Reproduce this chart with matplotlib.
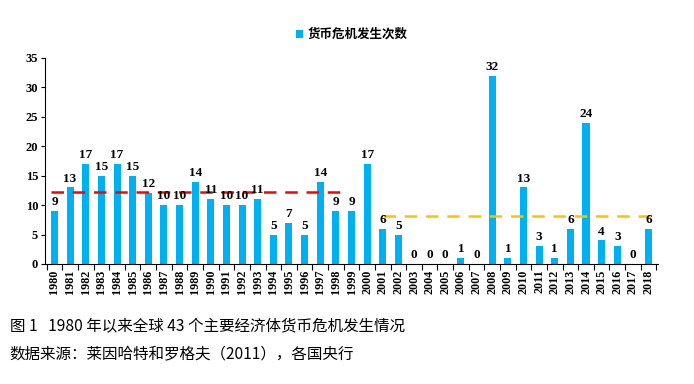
import matplotlib

matplotlib.use("Agg")

import matplotlib.pyplot as plt
import numpy as np

years = [str(y) for y in range(1980, 2019)]
counts = [9, 13, 17, 15, 17, 15, 12, 10, 10, 14, 11, 10, 10, 11, 5, 7, 5, 14, 9, 9,
          17, 6, 5, 0, 0, 0, 1, 0, 32, 1, 13, 3, 1, 6, 24, 4, 3, 0, 6]
avg_early = 12.2   # red dashed line, 1980-1999
avg_late = 8.2     # orange dashed line, 2001-2018

cjk = ["Noto Sans CJK SC", "DejaVu Sans"]
serif = "Liberation Serif"

fig = plt.figure(figsize=(6.94, 3.84), dpi=100)
ax = fig.add_axes([0.065, 0.3125, 0.883, 0.5365])

x = np.arange(len(years))
bars = ax.bar(x, counts, width=0.45, color="#00B0F0", label="货币危机发生次数", zorder=2)

for xi, v in zip(x, counts):
    ax.text(xi, v + 0.5, str(v), ha="center", va="bottom", fontsize=9.5,
            fontweight="bold", family=serif, zorder=4)

ax.plot([x[0] - 0.25, x[18] + 0.5], [avg_early, avg_early], color="#FF0000", lw=1.8,
        dashes=(5, 3.5), zorder=3)
ax.plot([x[21], x[38] + 0.2], [avg_late, avg_late], color="#FFC000", lw=1.8,
        dashes=(5, 3.5), zorder=3)

ax.set_xlim(-0.6, len(years) - 0.4)
ax.set_ylim(0, 35)
ax.set_yticks(range(0, 36, 5))
ax.set_yticklabels([str(t) for t in range(0, 36, 5)], family=serif,
                   fontweight="bold", fontsize=9)
ax.set_xticks(x)
ax.set_xticklabels(years, rotation=90, family=serif, fontweight="bold", fontsize=8.7)
ax.set_xticks(np.arange(-0.5, len(years)), minor=True)
ax.tick_params(axis="x", which="major", length=0, pad=4)
ax.tick_params(axis="x", which="minor", length=4, direction="out", width=0.8)
ax.tick_params(axis="y", length=3, direction="out", width=0.8, pad=2)

for s in ["top", "right"]:
    ax.spines[s].set_visible(False)
ax.spines["left"].set_linewidth(0.8)
ax.spines["bottom"].set_linewidth(0.8)

leg = ax.legend(loc="upper center", bbox_to_anchor=(0.5, 1.2), frameon=False,
                prop={"family": cjk, "size": 9, "weight": "bold"},
                handlelength=0.6, handleheight=0.6, handletextpad=0.3)

fig.text(0.014, 0.148, "图 1   1980 年以来全球 43 个主要经济体货币危机发生情况",
         family=cjk, fontsize=11.2, va="center")
fig.text(0.014, 0.075, "数据来源：莱因哈特和罗格夫（2011），各国央行",
         family=cjk, fontsize=11.2, va="center")

fig.savefig("out.png", dpi=100)
plt.close(fig)
